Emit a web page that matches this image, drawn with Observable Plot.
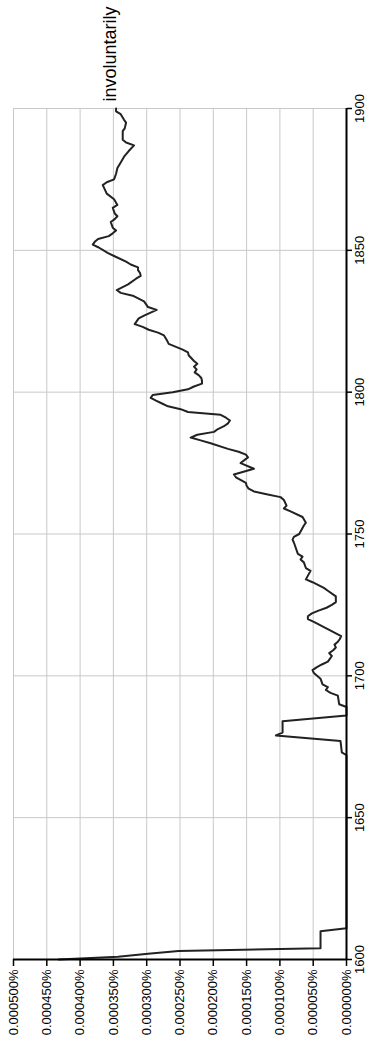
<!DOCTYPE html>
<html>
<head>
<meta charset="utf-8">
<script src="https://cdn.jsdelivr.net/npm/d3@7"></script>
<script src="https://cdn.jsdelivr.net/npm/@observablehq/plot@0.6"></script>
<style>
  html, body { margin: 0; padding: 0; background: #fff; overflow: hidden; }
  #chart { width: 369px; height: 1049px; }
</style>
</head>
<body>
<div id="chart"></div>
<script>
const seriesName = ["involuntarily"];

const years = [
  1600,1601,1602,1603,1604,1610,1611,1672,1673,1677,
  1679,1680,1684,1686,1689,1690,1693,1694,1695,1696,
  1697,1699,1701,1702,1703,1704,1705,1706,1707,1708,
  1709,1710,1711,1712,1713,1714,1719,1720,1721,1722,
  1723,1724,1725,1726,1728,1730,1731,1733,1734,1737,
  1738,1740,1741,1742,1743,1747,1748,1749,1750,1753,
  1754,1756,1758,1759,1760,1762,1763,1764,1765,1766,
  1767,1768,1770,1771,1773,1775,1777,1778,1779,1780,
  1782,1783,1784,1785,1786,1787,1788,1789,1790,1791,
  1792,1793,1794,1795,1796,1797,1798,1799,1800,1801,
  1802,1803,1804,1805,1806,1807,1808,1809,1810,1811,
  1813,1814,1815,1817,1818,1820,1821,1822,1823,1824,
  1826,1827,1829,1830,1832,1834,1835,1836,1838,1840,
  1841,1842,1843,1844,1845,1846,1848,1849,1851,1852,
  1853,1854,1855,1856,1857,1858,1860,1861,1862,1863,
  1865,1866,1868,1870,1872,1873,1874,1875,1877,1879,
  1881,1883,1885,1887,1888,1889,1892,1893,1895,1896,
  1898,1899,1900
];

// frequency in percent
const values = [
  0.000432,0.000343,0.000298,0.000252,0.000039,0.000039,0,0,0.000007,0.000009,
  0.000106,0.000096,0.000096,0,0,0.000011,0.000013,0.000024,0.000031,0.000028,
  0.000036,0.000039,0.000049,0.000051,0.000045,0.000037,0.000028,0.000025,0.000022,0.000026,
  0.000020,0.000016,0.000018,0.000013,0.000010,0.000008,0.000049,0.000058,0.000058,0.000052,
  0.000042,0.000030,0.000022,0.000016,0.000016,0.000028,0.000034,0.000051,0.000061,0.000054,
  0.000061,0.000064,0.000069,0.000066,0.000073,0.000079,0.000081,0.000079,0.000071,0.000064,
  0.000061,0.000066,0.000084,0.000094,0.000090,0.000094,0.000099,0.000120,0.000139,0.000147,
  0.000150,0.000151,0.000166,0.000169,0.000139,0.000159,0.000148,0.000151,0.000162,0.000178,
  0.000204,0.000219,0.000234,0.000224,0.000199,0.000193,0.000184,0.000178,0.000175,0.000181,
  0.000189,0.000238,0.000249,0.000268,0.000277,0.000286,0.000294,0.000291,0.000261,0.000238,
  0.000229,0.000217,0.000217,0.000218,0.000222,0.000228,0.000225,0.000229,0.000224,0.000229,
  0.000237,0.000238,0.000246,0.000267,0.000269,0.000274,0.000283,0.000297,0.000306,0.000318,
  0.000312,0.000304,0.000285,0.000298,0.000304,0.000321,0.000339,0.000345,0.000328,0.000316,
  0.000309,0.000310,0.000313,0.000313,0.000324,0.000331,0.000349,0.000358,0.000372,0.000381,
  0.000378,0.000373,0.000357,0.000351,0.000346,0.000351,0.000354,0.000348,0.000344,0.000348,
  0.000351,0.000344,0.000349,0.000360,0.000364,0.000366,0.000360,0.000349,0.000346,0.000344,
  0.000339,0.000334,0.000327,0.000319,0.000331,0.000336,0.000336,0.000333,0.000331,0.000334,
  0.000339,0.000346,0.000346
];

const valueTicks = [0, 0.00005, 0.0001, 0.00015, 0.0002, 0.00025, 0.0003, 0.00035, 0.0004, 0.00045, 0.0005];
const yearTicks = [1600, 1650, 1700, 1750, 1800, 1850, 1900];

const data = years.map((year, i) => ({year, value: values[i]}));
const last = [data[data.length - 1]];
const fmt = d => d3.format(".6f")(d) + "%";

const chart = Plot.plot({
  width: 369,
  height: 1049,
  marginTop: 108,
  marginBottom: 90,
  marginLeft: 13,
  marginRight: 23,
  style: {fontFamily: "'Liberation Sans', Arial, sans-serif", background: "#fff", color: "#000"},
  x: {domain: [0, 0.0005], reverse: true},
  y: {domain: [1600, 1900]},
  marks: [
    Plot.gridX(valueTicks, {stroke: "#c8c8c8", strokeOpacity: 1, strokeWidth: 1}),
    Plot.gridY(yearTicks, {stroke: "#c8c8c8", strokeOpacity: 1, strokeWidth: 1}),
    Plot.line(data, {x: "value", y: "year", stroke: "#222", strokeWidth: 2, strokeLinejoin: "round"}),
    Plot.ruleY([1600], {stroke: "#000", strokeWidth: 2}),
    Plot.ruleX([0], {stroke: "#000", strokeWidth: 2}),
    Plot.axisX(valueTicks, {
      anchor: "bottom", tickSize: 7, tickRotate: -90, tickPadding: 3,
      textAnchor: "end", lineAnchor: "middle",
      tickFormat: fmt, fontSize: 13, label: null, strokeWidth: 1.5
    }),
    Plot.axisY(yearTicks, {
      anchor: "right", tickSize: 5, tickRotate: -90, tickPadding: 3,
      textAnchor: "middle", lineAnchor: "top",
      tickFormat: d => String(d), fontSize: 13, label: null, strokeWidth: 1.5
    }),
    Plot.text(last, {
      x: "value", y: "year", text: () => seriesName[0],
      rotate: -90, textAnchor: "start", lineAnchor: "bottom",
      fontSize: 18, dy: -7, fill: "#000"
    })
  ]
});
document.getElementById("chart").appendChild(chart);
</script>
</body>
</html>
